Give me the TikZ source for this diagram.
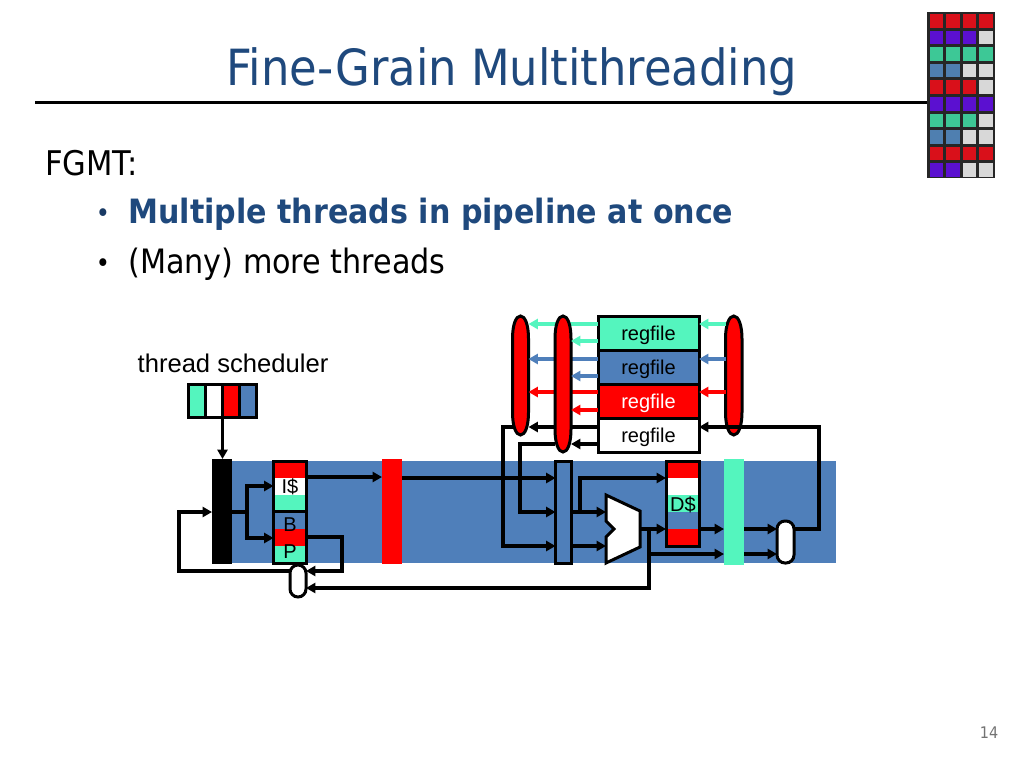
\documentclass[tikz,border=0pt]{standalone}
\usepackage{fontspec}
\setmainfont{DejaVu Sans Condensed}
\newfontfamily\arialf{Liberation Sans}
\usetikzlibrary{arrows.meta}
\definecolor{cmint}{HTML}{54F5BE}
\definecolor{cblue}{HTML}{4F7FBA}
\definecolor{cred}{HTML}{FF0000}
\definecolor{ctitle}{HTML}{1F497D}
\definecolor{gred}{HTML}{D9101A}
\definecolor{gpur}{HTML}{5B10D0}
\definecolor{gteal}{HTML}{3DC896}
\definecolor{gblue}{HTML}{4F7FB0}
\definecolor{ggrey}{HTML}{D8D8D8}
\tikzset{
  stroke/.style={draw=black,line width=2.25pt},
  boxn/.style={stroke,rectangle,inner sep=0pt,outer sep=0pt},
  plain/.style={rectangle,inner sep=0pt,outer sep=0pt},
  pill/.style={stroke,rectangle,inner sep=0pt,outer sep=0pt,rounded corners=6pt},
  conn/.style={draw=black,line width=2.3pt},
  arr/.style={line width=2.3pt,-{Triangle[length=7pt,width=7.5pt]}},
  lab/.style={inner sep=0pt,font=\arialf\fontsize{15}{15}\selectfont},
}
% \bx{name}{style}{x1}{y1}{x2}{y2}{text}
\newcommand{\bx}[7]{%
  \pgfmathsetmacro{\bxw}{(#5-#3)*0.75}%
  \pgfmathsetmacro{\bxh}{(#6-#4)*0.75}%
  \pgfmathsetmacro{\bxcx}{(#3+#5)/2}%
  \pgfmathsetmacro{\bxcy}{(#4+#6)/2}%
  \node[#2,minimum width=\bxw pt,minimum height=\bxh pt] (#1) at (\bxcx,\bxcy) {#7};}
% long red oval with elongated ends, drawn over a node's outline
\newcommand{\redoval}[1]{%
  \draw[stroke,fill=cred] (#1.north)
    .. controls ([xshift=3.6pt]#1.north) and ([yshift=-7pt]#1.north east) .. ([yshift=-17pt]#1.north east)
    -- ([yshift=17pt]#1.south east)
    .. controls ([yshift=7pt]#1.south east) and ([xshift=3.6pt]#1.south) .. (#1.south)
    .. controls ([xshift=-3.6pt]#1.south) and ([yshift=7pt]#1.south west) .. ([yshift=17pt]#1.south west)
    -- ([yshift=-17pt]#1.north west)
    .. controls ([yshift=-7pt]#1.north west) and ([xshift=-3.6pt]#1.north) .. (#1.north) -- cycle;}
\newcommand{\gridrow}[5]{%
  \foreach \cc [count=\ci from 0] in {#2,#3,#4,#5} {%
    \pgfmathsetmacro{\gx}{929.5+\ci*16.6}%
    \pgfmathsetmacro{\gy}{14+#1*16.6}%
    \fill[\cc] (\gx,\gy) rectangle ++(13.6,13.6);}}
\begin{document}
\begin{tikzpicture}[x=0.75pt,y=-0.75pt]
\useasboundingbox (0,0) rectangle (1024,768);
\fill[white] (0,0) rectangle (1024,768);

% title
\node[anchor=base,text=ctitle,inner sep=0pt,font=\fontsize{37.4}{38}\selectfont] (title) at (512,85) {Fine-Grain Multithreading};
\coordinate (ruleL) at (35,102);
% corner grid
\bx{grid}{plain,fill=black!85}{927}{12}{995}{178}{}
\draw[line width=2.25pt] (ruleL) -- (grid.west |- ruleL);
\gridrow{0}{gred}{gred}{gred}{gred}
\gridrow{1}{gpur}{gpur}{gpur}{ggrey}
\gridrow{2}{gteal}{gteal}{gteal}{gteal}
\gridrow{3}{gblue}{gblue}{ggrey}{ggrey}
\gridrow{4}{gred}{gred}{gred}{ggrey}
\gridrow{5}{gpur}{gpur}{gpur}{gpur}
\gridrow{6}{gteal}{gteal}{gteal}{ggrey}
\gridrow{7}{gblue}{gblue}{ggrey}{ggrey}
\gridrow{8}{gred}{gred}{gred}{gred}
\gridrow{9}{gpur}{gpur}{ggrey}{ggrey}

% body text
\node[anchor=base west,inner sep=0pt,font=\fontsize{25.5}{26}\selectfont] (fgmt) at (45,175) {FGMT:};
\node[anchor=base,inner sep=0pt,font=\fontsize{20}{24}\selectfont,text=ctitle!80!black] (b1) at (103,222) {•};
\node[anchor=base west,inner sep=0pt,font=\bfseries\fontsize{25.1}{26}\selectfont,text=ctitle] (l1) at (128,223) {Multiple threads in pipeline at once};
\node[anchor=base,inner sep=0pt,font=\fontsize{20}{24}\selectfont] (b2) at (103,272) {•};
\node[anchor=base west,inner sep=0pt,font=\fontsize{25.2}{26}\selectfont] (l2) at (128,273) {(Many) more threads};
\node[anchor=base,inner sep=0pt,text=black!55,font=\fontsize{12}{12}\selectfont] (pg) at (989,738) {14};

% pipeline band
\bx{band}{plain,fill=cblue}{232}{461}{836}{563}{}

% thread scheduler
\node[lab,font=\arialf\fontsize{19.2}{20}\selectfont] (tslab) at (233,363) {thread scheduler};
\bx{ts1}{boxn,fill=cmint}{188.5}{384.5}{205.5}{417.5}{}
\bx{ts2}{boxn,fill=white}{205.5}{384.5}{222.5}{417.5}{}
\bx{ts3}{boxn,fill=cred}{222.5}{384.5}{239.5}{417.5}{}
\bx{ts4}{boxn,fill=cblue}{239.5}{384.5}{256}{417.5}{}

% pipeline registers
\bx{fetchbar}{plain,fill=black}{212}{459}{232}{564}{}
\bx{redbar}{plain,fill=cred}{382}{459}{402}{564}{}
\bx{mintbar}{plain,fill=cmint}{724}{459}{744}{565}{}
\bx{muxbar}{boxn,fill=cblue}{555.5}{461}{571.5}{563}{}

% I$ and BP stripes
\fill[cred] (273,461) rectangle (307,478);
\fill[white] (273,478) rectangle (307,495);
\fill[cmint] (273,495) rectangle (307,511);
\fill[cblue] (273,511) rectangle (307,529);
\fill[cred] (273,529) rectangle (307,546);
\fill[cmint] (273,546) rectangle (307,563);
\bx{icache}{boxn}{273.5}{461}{306.5}{511}{}
\bx{bp}{boxn}{273.5}{511}{306.5}{563}{}
\node[lab] (il) at (290,487) {I\$};
\node[lab] (bl) at (290,525) {B};
\node[lab] (pl) at (290,552) {P};

% D$
\fill[cred] (666,461) rectangle (699,478);
\fill[white] (666,478) rectangle (699,495);
\fill[cmint] (666,495) rectangle (699,512);
\fill[cblue] (666,512) rectangle (699,529);
\fill[cred] (666,529) rectangle (699,546);
\bx{dcache}{boxn}{666}{461}{699}{546}{}
\node[lab] (dl) at (683,505) {D\$};

% ALU
\draw[stroke,fill=white,line join=miter] (606,495) coordinate (alu1) -- (640,511) -- (640,547) -- (606,563) -- (606,537) -- (614,529) -- (606,521) -- cycle;
\coordinate (aluE) at (640,529);
\coordinate (aluW) at (606,529);

% regfiles
\bx{rf1}{boxn,fill=cmint}{598}{316}{699}{350}{}
\bx{rf2}{boxn,fill=cblue}{598}{350}{699}{384}{}
\bx{rf3}{boxn,fill=cred}{598}{384}{699}{418.5}{}
\bx{rf4}{boxn,fill=white}{598}{418.5}{699}{452}{}
\node[lab,yshift=-1.5pt] at (rf1) (rt1) {regfile};
\node[lab,yshift=-1.5pt] at (rf2) (rt2) {regfile};
\node[lab,yshift=-1.5pt,text=white] at (rf3) (rt3) {regfile};
\node[lab,yshift=-1.5pt] at (rf4) (rt4) {regfile};

% muxes
\bx{e1}{plain}{512.5}{316}{528.5}{435}{}
\redoval{e1}
\bx{e3}{plain}{725.5}{316}{742}{435}{}
\redoval{e3}

% regfile read arrows to the far mux
\draw[arr,cmint] (rf1.west |- 0,324) -- (e1.east |- 0,324);
\draw[arr,cblue] (rf2.west |- 0,359) -- (e1.east |- 0,359);
\draw[arr,cred] (rf3.west |- 0,392) -- (e1.east |- 0,392);
\draw[arr] (rf4.west |- 0,427) -- (e1.east |- 0,427);
\bx{e2}{plain}{555}{316}{571}{452}{}
\redoval{e2}
\draw[arr,cmint] (rf1.west |- 0,341) -- (e2.east |- 0,341);
\draw[arr,cblue] (rf2.west |- 0,376) -- (e2.east |- 0,376);
\draw[arr,cred] (rf3.west |- 0,410) -- (e2.east |- 0,410);
\draw[arr] (rf4.west |- 0,444) -- (e2.east |- 0,444);

% write mux to regfiles
\draw[arr,cmint] (e3.west |- 0,324) -- (rf1.east |- 0,324);
\draw[arr,cblue] (e3.west |- 0,359) -- (rf2.east |- 0,359);
\draw[arr,cred] (e3.west |- 0,392) -- (rf3.east |- 0,392);

% latches
\bx{latch1}{pill,fill=white}{290}{565}{306}{597}{}
\bx{latch2}{pill,fill=white}{777}{521}{794}{563}{}

% scheduler & fetch connectors
\draw[arr] (ts2.south east) -- (fetchbar.north -| ts2.south east);
\draw[conn] (fetchbar.east |- 0,512) -- (247,512) coordinate (fj);
\draw[arr] (fj) |- (icache.west |- 0,486);
\draw[arr] (fj) |- (bp.west |- 0,538);
\draw[arr] (latch1.west |- 0,571) -- (179,571) |- (fetchbar.west |- 0,512);
\draw[arr] (bp.east |- 0,537) -- (342,537) |- (latch1.east |- 0,571);
\draw[arr] (icache.east |- 0,477) -- (redbar.west |- 0,477);
\draw[arr] (redbar.east |- 0,478) -- (muxbar.west |- 0,478);

% bypass / register inputs
\draw[arr] (e1.west |- 0,427) -- (503,427) |- (muxbar.west |- 0,546);
\draw[arr] (e2.west |- 0,444) -- (520,444) |- (muxbar.west |- 0,512);

% execute
\draw[arr] (muxbar.east |- 0,512) -- (aluW |- 0,512);
\draw[arr] (muxbar.east |- 0,546) -- (aluW |- 0,546);
\draw[arr] (580,512) coordinate (bj) |- (dcache.west |- 0,478);
\draw[arr] (aluE) -- (dcache.west |- aluE);
\draw[arr] (dcache.east |- aluE) -- (mintbar.west |- aluE);
\draw[arr] (mintbar.east |- aluE) -- (latch2.west |- aluE);
\draw[arr] (mintbar.east |- 0,554) -- (latch2.west |- 0,554);
\coordinate (aj) at (649,529);
\draw[arr] (aj |- 0,554) -- (mintbar.west |- 0,554);
\draw[arr] (aj) |- (latch1.east |- 0,588);
\draw[arr] (latch2.east |- aluE) -- (819,529) |- (rf4.east |- 0,427);
\end{tikzpicture}
\end{document}
